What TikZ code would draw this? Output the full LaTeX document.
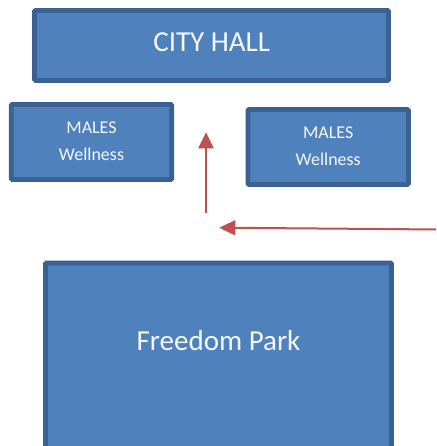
\documentclass[tikz,border=0pt]{standalone}
\usepackage{fontspec}
\setmainfont{Carlito}
\usetikzlibrary{arrows.meta}
\definecolor{boxfill}{HTML}{4F81BD}
\definecolor{boxline}{HTML}{3B6192}
\definecolor{arrowred}{HTML}{C0504D}
\definecolor{txt}{HTML}{F4F7FC}
\tikzset{
  block/.style={draw=boxline, fill=boxfill, line width=4.6pt, rounded corners=1pt, inner sep=0pt},
  bigtext/.style={text=txt, font=\fontsize{29}{34}\selectfont, anchor=base, inner sep=0pt},
  smalltext/.style={text=txt, font=\fontsize{18}{27}\selectfont, anchor=base, inner sep=0pt},
  redarrow/.style={draw=arrowred, line width=2pt, -{Triangle[length=16pt,width=15pt]}}
}
\begin{document}
\begin{tikzpicture}[x=1pt,y=-1pt]
\clip (0,0) rectangle (436,446);
\fill[white] (0,0) rectangle (436,446);
% boxes
\node[block, minimum width=354pt, minimum height=70pt] (cityhall) at (211.5,45.5) {};
\node[block, minimum width=160.5pt, minimum height=75pt] (malesL) at (91.5,142) {};
\node[block, minimum width=160.5pt, minimum height=75pt] (malesR) at (328.2,147) {};
\node[block, minimum width=346pt, minimum height=220pt] (park) at (218.5,373) {};
% texts
\node[bigtext] (cityhalltext) at (211.7,51.7) {CITY HALL};
\node[smalltext] (malesLa) at (91.5,134) {MALES};
\node[smalltext] (malesLb) at (91.5,161) {Wellness};
\node[smalltext] (malesRa) at (328.2,139) {MALES};
\node[smalltext] (malesRb) at (328.2,165.7) {Wellness};
\node[bigtext] (parktext) at (218.5,350) {Freedom Park};
% arrows
\coordinate (vstart) at (206,213.3);
\coordinate (vend) at (206,132.3);
\coordinate (hstart) at (440,229.5);
\coordinate (hend) at (219.3,227.7);
\draw[redarrow] (vstart) -- (vend);
\draw[redarrow] (hstart) -- (hend);
\end{tikzpicture}
\end{document}
